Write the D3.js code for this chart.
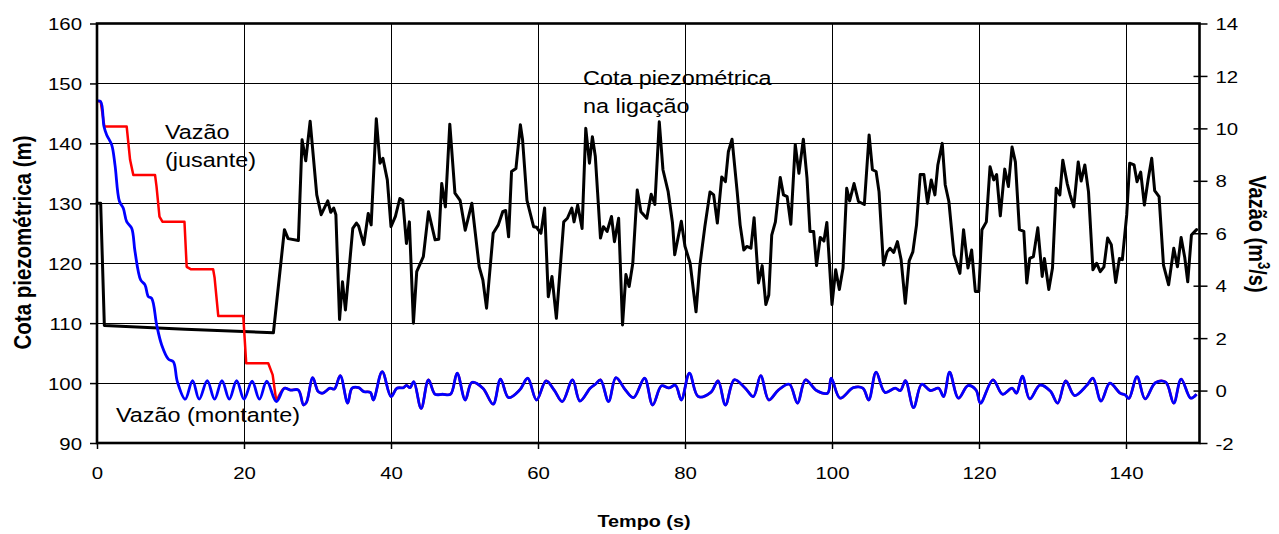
<!DOCTYPE html>
<html>
<head>
<meta charset="utf-8">
<script src="https://cdn.jsdelivr.net/npm/d3@7"></script>
<style>
  html, body { margin: 0; padding: 0; background: #fff; }
  svg { display: block; }
  text { font-family: "Liberation Sans", Arial, Helvetica, sans-serif; fill: #000; }
</style>
</head>
<body>
<svg id="chart" width="1279" height="534"></svg>
<script>
// ---- axis ticks ----
const tempoTicks = [0, 20, 40, 60, 80, 100, 120, 140];
const cotaTicks  = [90, 100, 110, 120, 130, 140, 150, 160];
const vazaoTicks = [-2, 0, 2, 4, 6, 8, 10, 12, 14];

// ---- piezometric head at the junction [t (s), cota (m)] ----
const cotaLigacao = [
  [0,130],[0.5,130],[1.0,109.6],[12,109.0],[24.0,108.4],
  [25.5,125.6],[26.0,124.1],[27.4,123.8],[27.9,140.6],[28.4,137.1],[29.0,143.7],[29.9,131.4],
  [30.5,128.1],[31.4,130.4],[31.8,128.5],[32.2,129.2],[32.5,128.1],[33.0,110.6],[33.4,116.9],
  [33.8,112.2],[34.8,125.8],[35.3,126.7],[35.6,126.2],[36.3,123.1],[36.9,128.3],[37.3,126.4],
  [38.0,144.1],[38.5,136.7],[38.9,137.5],[39.5,133.9],[40.0,126.1],[40.6,127.8],[41.2,130.8],
  [41.6,130.5],[42.1,123.3],[42.5,126.9],[43.05,110.0],[43.5,118.6],[44.4,121.1],[45.1,128.6],
  [46.0,123.9],[46.5,124.0],[46.9,133.3],[47.4,129.4],[48.0,143.2],[48.7,131.7],[49.4,130.5],
  [50.1,125.5],[51.0,130.0],[52.0,119.4],[52.5,117.2],[53.0,112.5],[53.9,125.0],[54.6,126.4],
  [55.2,128.6],[55.6,128.8],[56.0,124.4],[56.4,135.3],[57.0,135.8],[57.6,143.1],[57.9,140.6],
  [58.5,130.5],[59.4,126.1],[59.8,126.0],[60.4,125.0],[60.9,129.2],[61.4,114.4],[61.9,117.8],
  [62.5,110.8],[63.5,126.9],[64.0,127.5],[64.6,129.2],[64.9,126.9],[65.4,129.7],[66.0,125.8],
  [66.5,142.5],[67.0,136.7],[67.4,141.1],[67.8,137.8],[68.5,124.2],[68.9,126.1],[69.4,125.3],
  [70.0,127.8],[70.4,123.6],[70.97,127.5],[71.5,109.7],[71.96,118.1],[72.4,116.1],[72.9,120.0],
  [73.5,132.2],[74.0,128.6],[74.8,127.5],[75.4,131.5],[75.9,129.8],[76.5,143.6],[77.0,135.6],
  [77.7,132.0],[78.3,126.7],[78.6,121.4],[79.5,127.0],[80.0,122.8],[80.7,120.0],[81.5,111.9],
  [82.0,119.4],[82.7,126.1],[83.4,131.9],[83.9,131.4],[84.4,126.7],[85.0,134.4],[85.5,133.6],
  [85.9,138.6],[86.4,140.7],[87.1,131.9],[87.5,126.4],[88.0,122.2],[88.4,122.8],[88.97,122.5],
  [89.4,127.6],[90.0,116.7],[90.5,119.6],[91.0,113.1],[91.4,114.7],[91.8,124.7],[92.3,126.9],
  [92.96,134.3],[93.4,131.4],[93.9,131.1],[94.4,126.5],[95.0,139.8],[95.5,135.0],[96.1,140.7],
  [96.6,134.2],[97.0,125.3],[97.5,125.3],[97.9,119.6],[98.4,124.3],[98.9,123.7],[99.3,126.8],
  [100.0,113.1],[100.5,118.9],[101.0,115.6],[101.5,119.2],[102.0,132.5],[102.4,130.4],[103.0,133.3],
  [103.6,130.3],[104.4,129.8],[105.05,141.4],[105.5,135.6],[106.0,135.3],[106.4,131.9],[107.0,119.7],
  [107.5,121.9],[107.9,122.5],[108.4,121.8],[108.9,123.6],[109.4,120.6],[109.97,113.3],[110.5,120.4],
  [111.0,121.9],[111.5,126.4],[112.0,134.8],[112.5,134.8],[113.0,130.0],[113.5,133.9],[114.0,131.4],
  [114.4,136.4],[115.0,140.0],[115.4,133.1],[115.9,130.3],[116.6,121.4],[117.4,118.3],[117.9,125.6],
  [118.5,119.2],[119.0,122.2],[119.5,115.3],[119.97,115.3],[120.4,125.6],[121.0,126.9],[121.5,136.1],
  [122.0,133.9],[122.4,134.8],[122.9,127.9],[123.5,135.7],[124.0,132.8],[124.5,139.4],[124.95,136.9],
  [125.5,125.6],[126.1,125.3],[126.5,116.7],[126.9,120.8],[127.4,121.1],[128.0,125.9],[128.6,117.8],
  [128.9,120.8],[129.5,115.6],[130.0,119.2],[130.5,132.5],[131.0,131.4],[131.4,137.2],[132.0,133.3],
  [132.4,131.4],[132.9,129.4],[133.5,136.9],[133.9,133.7],[134.4,136.4],[134.9,131.9],[135.5,118.9],
  [136.0,120.0],[136.5,118.6],[137.0,119.4],[137.5,124.2],[138.0,123.1],[138.6,116.8],[139.1,120.8],
  [139.5,120.6],[140.1,128.1],[140.5,136.7],[141.1,136.4],[141.5,133.6],[142.0,135.2],[142.5,129.7],
  [143.0,133.9],[143.5,137.5],[143.9,132.1],[144.5,131.1],[145.1,119.7],[145.8,116.4],[146.5,122.5],
  [147.0,119.4],[147.5,124.3],[148.0,120.9],[148.4,116.9],[148.9,124.7],[149.6,125.6]
];

// ---- upstream flow [t (s), Q (m3/s)] ----
const vazaoMontante = [
  [0,11.04],[0.5,11.02],[0.95,10.07],[1.32,9.75],[2.0,9.37],[2.45,8.6],[3.04,7.23],[3.58,6.95],
  [4.04,6.44],[4.72,6.19],[5.17,5.3],[5.94,4.22],[6.53,4.03],[6.99,3.58],[7.44,3.52],[8.12,2.5],
  [8.8,1.74],[9.71,1.2],[10.39,1.1],[10.93,0.34],[12.0,-0.33],[13.0,0.38],[13.9,-0.33],[15.0,0.38],
  [16.0,-0.33],[17.0,0.38],[18.0,-0.33],[19.0,0.38],[20.0,-0.33],[21.1,0.36],[22.1,-0.33],[23.1,0.36],
  [24.4,-0.42],[25.5,0.09],[26.3,0.02],[27.4,0.02],[28.1,-0.55],[28.5,-0.45],[29.35,0.49],[30.1,-0.04],
  [30.7,-0.1],[31.7,0.09],[32.3,0.06],[33.1,0.57],[34.1,-0.48],[34.7,0.09],[35.6,0.11],[36.3,-0.04],
  [37.2,-0.07],[37.6,-0.36],[38.8,0.72],[40.0,-0.23],[40.8,0.09],[41.7,0.11],[42.1,0.2],[42.6,0.11],
  [43.1,0.34],[44.1,-0.68],[45.1,0.41],[46.0,-0.14],[47.0,-0.14],[48.1,-0.14],[49.0,0.66],[50.1,-0.36],
  [51.0,0.31],[52.5,0.09],[53.9,-0.52],[54.9,0.44],[56.0,-0.27],[57.5,0.02],[58.6,0.47],[59.8,-0.36],
  [61.1,0.37],[62.2,0.02],[63.3,-0.42],[64.7,0.41],[65.7,-0.4],[67.1,0.09],[67.8,0.24],[68.5,0.41],
  [69.6,-0.42],[70.6,0.49],[71.9,0.02],[73.0,-0.27],[74.5,0.47],[75.6,-0.55],[76.8,0.18],[77.8,0.1],
  [78.7,0.2],[79.5,-0.36],[80.6,0.66],[81.8,-0.23],[83.5,-0.07],[84.5,0.37],[85.5,-0.55],[86.7,0.41],
  [88.2,0.09],[89.3,-0.23],[90.3,0.57],[91.4,-0.36],[92.7,0.02],[94.2,0.24],[95.3,-0.48],[96.4,0.41],
  [97.9,0.0],[99.4,-0.1],[99.9,0.47],[101.1,-0.29],[102.9,0.11],[104.2,0.09],[105.0,-0.36],[106.0,0.7],
  [107.2,-0.07],[108.6,0.09],[109.3,0.0],[110.0,0.38],[111.1,-0.65],[112.2,0.24],[113.4,0.0],[114.5,0.09],
  [115.2,-0.23],[116.0,0.7],[117.2,-0.29],[118.5,0.19],[119.6,0.02],[120.2,-0.48],[121.9,0.41],[123.2,-0.14],
  [124.5,0.09],[125.1,-0.1],[125.9,0.55],[126.9,-0.32],[128.3,0.21],[129.7,-0.02],[130.7,-0.48],[131.8,0.37],
  [133.0,-0.19],[134.7,0.21],[135.5,0.47],[136.6,-0.4],[137.8,0.28],[139.2,-0.1],[139.9,-0.17],[140.4,-0.3],
  [141.5,0.53],[142.6,-0.32],[144.0,0.3],[145.4,0.32],[146.5,-0.48],[147.5,0.44],[148.8,-0.29],[149.6,-0.14]
];

// ---- downstream flow during the stepped valve closure [t (s), Q (m3/s)] ----
const vazaoJusante = [
  [0,11.04],[0.5,11.02],[1.0,10.07],[4.04,10.07],[4.5,8.8],[4.94,8.22],[7.9,8.22],[8.1,7.78],
  [8.5,6.63],[8.9,6.44],[11.9,6.44],[12.2,4.72],[12.75,4.63],[15.8,4.63],[16.0,4.3],[16.5,2.84],
  [19.9,2.84],[20.3,1.04],[23.3,1.04],[23.9,0.6],[24.4,-0.42]
];

// ---- layout ----
const plot = { left: 97, right: 1199.5, top: 23.5, bottom: 443 };
const stretch = 1.2;   // glyphs are drawn slightly wide
const fontTick = 17, fontNote = 19.5;

const x = d3.scaleLinear().domain([0, 150]).range([plot.left, plot.right]);
const yCota = d3.scaleLinear().domain([90, 160]).range([plot.bottom, plot.top]);
const yVazao = d3.scaleLinear().domain([-2, 14]).range([plot.bottom, plot.top]);

const svg = d3.select("#chart");

// ---- grid ----
const grid = svg.append("g").attr("stroke", "#000").attr("stroke-width", 1).attr("shape-rendering", "crispEdges");
grid.selectAll("line.h").data(cotaTicks.filter(v => v > 90 && v < 160)).join("line")
  .attr("class", "h")
  .attr("x1", plot.left).attr("x2", plot.right)
  .attr("y1", d => yCota(d)).attr("y2", d => yCota(d));
grid.selectAll("line.v").data(tempoTicks.filter(v => v > 0)).join("line")
  .attr("class", "v")
  .attr("x1", d => x(d)).attr("x2", d => x(d))
  .attr("y1", plot.top).attr("y2", plot.bottom);

// ---- series ----
const lineCota = d3.line().x(d => x(d[0])).y(d => yCota(d[1]));
const lineStep = d3.line().x(d => x(d[0])).y(d => yVazao(d[1]));
const lineSmooth = d3.line().curve(d3.curveCatmullRom.alpha(0.5)).x(d => x(d[0])).y(d => yVazao(d[1]));

svg.append("path").datum(cotaLigacao)
  .attr("d", lineCota).attr("fill", "none").attr("stroke", "#000")
  .attr("stroke-width", 3).attr("stroke-linejoin", "round").attr("stroke-linecap", "round");

// downstream flow: stepped closure, then it coincides with the upstream record
svg.append("path").datum(vazaoJusante)
  .attr("d", lineStep).attr("fill", "none").attr("stroke", "#ff0000")
  .attr("stroke-width", 2.5).attr("stroke-linejoin", "round");
svg.append("path").datum(vazaoMontante.filter(d => d[0] >= 24.4))
  .attr("d", lineSmooth).attr("fill", "none").attr("stroke", "#ff0000")
  .attr("stroke-width", 2.5).attr("stroke-linejoin", "round");

svg.append("path").datum(vazaoMontante)
  .attr("d", lineSmooth).attr("fill", "none").attr("stroke", "#0000ff")
  .attr("stroke-width", 2.8).attr("stroke-linejoin", "round");

// ---- frame ----
svg.append("rect")
  .attr("x", plot.left).attr("y", plot.top)
  .attr("width", plot.right - plot.left).attr("height", plot.bottom - plot.top)
  .attr("fill", "none").attr("stroke", "#000").attr("stroke-width", 2.6);

// ---- axes ----
function styleAxis(g) {
  g.attr("font-family", null).attr("font-size", null);
  g.select(".domain").remove();
  g.selectAll(".tick line").attr("stroke", "#000").attr("stroke-width", 1.5);
  g.selectAll(".tick text").attr("font-size", fontTick).attr("fill", "#000");
}

const axLeft = svg.append("g").attr("transform", `translate(${plot.left},0)`)
  .call(d3.axisLeft(yCota).tickValues(cotaTicks).tickSize(7).tickFormat(d3.format("d")));
styleAxis(axLeft);
axLeft.selectAll(".tick text")
  .attr("transform", `scale(${stretch},1)`).attr("x", -15 / stretch).attr("dy", "0.36em");

const axRight = svg.append("g").attr("transform", `translate(${plot.right},0)`)
  .call(d3.axisRight(yVazao).tickValues(vazaoTicks).tickSize(8).tickFormat(d3.format("d")));
styleAxis(axRight);
axRight.selectAll(".tick line").attr("x1", d => (d === 14 || d === -2) ? 0 : -6).attr("x2", 8);
axRight.selectAll(".tick text")
  .attr("transform", `scale(${stretch},1)`).attr("x", 16 / stretch).attr("dy", "0.36em")
  .text(d => d < 0 ? "-" + Math.abs(d) : d);

const axBottom = svg.append("g").attr("transform", `translate(0,${plot.bottom})`)
  .call(d3.axisBottom(x).tickValues(tempoTicks).tickSize(6).tickFormat(d3.format("d")));
styleAxis(axBottom);
axBottom.selectAll(".tick text")
  .attr("transform", `scale(${stretch},1)`).attr("y", 30).attr("dy", "0.36em");

// ---- axis titles ----
svg.append("text")
  .attr("transform", `translate(644,527) scale(${stretch},1)`)
  .attr("text-anchor", "middle").attr("font-size", 16.5).attr("font-weight", "bold")
  .text("Tempo (s)");

svg.append("text")
  .attr("transform", `translate(22.5,242.5) scale(${stretch},1) rotate(-90)`)
  .attr("text-anchor", "middle").attr("dy", "0.36em")
  .attr("font-size", 20.5).attr("font-weight", "bold")
  .text("Cota piezométrica (m)");

const tRight = svg.append("text")
  .attr("transform", `translate(1258,234) scale(${stretch},1) rotate(90)`)
  .attr("text-anchor", "middle").attr("dy", "0.36em")
  .attr("font-size", 20).attr("font-weight", "bold");
tRight.append("tspan").text("Vazão (m");
tRight.append("tspan").attr("baseline-shift", "super").attr("font-size", 13).text("3");
tRight.append("tspan").text("/s)");

// ---- series labels ----
function note(lines, px, py, lh) {
  const t = svg.append("text")
    .attr("transform", `translate(${px},${py}) scale(${stretch},1)`)
    .attr("font-size", fontNote);
  lines.forEach((s, i) => t.append("tspan").attr("x", 0).attr("y", i * lh).text(s));
}
note(["Vazão", "(jusante)"], 165, 138.5, 29);
note(["Vazão (montante)"], 116, 421.5, 0);
note(["Cota piezométrica", "na ligação"], 583, 85, 28.5);
</script>
</body>
</html>
